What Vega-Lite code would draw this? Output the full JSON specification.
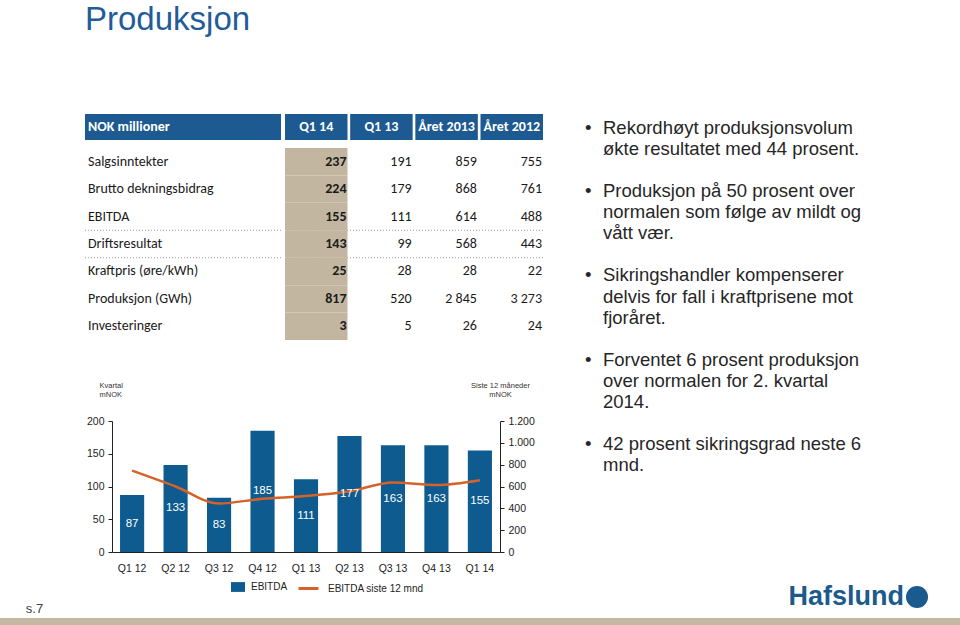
{
  "$schema": "https://vega.github.io/schema/vega-lite/v6.json",
  "padding": {"top": 4, "left": 0, "right": 0, "bottom": 0},
  "background": "white",
  "title": {"text": "Produksjon", "anchor": "start", "dx": 85, "fontSize": 33, "font": "Liberation Sans", "fontWeight": "normal", "color": "#1f5c99", "offset": 77},
  "datasets": {
    "foot": [{"t": "s.7"}],
    "hdr": [{"col": "NOK millioner"}],
    "cols": [{"col": "Q1 14"}, {"col": "Q1 13"}, {"col": "Året 2013"}, {"col": "Året 2012"}],
    "tbl": [
      {"label": "Salgsinntekter", "Q1 14": "237", "Q1 13": "191", "Året 2013": "859", "Året 2012": "755"},
      {"label": "Brutto dekningsbidrag", "Q1 14": "224", "Q1 13": "179", "Året 2013": "868", "Året 2012": "761"},
      {"label": "EBITDA", "Q1 14": "155", "Q1 13": "111", "Året 2013": "614", "Året 2012": "488"},
      {"label": "Driftsresultat", "Q1 14": "143", "Q1 13": "99", "Året 2013": "568", "Året 2012": "443"},
      {"label": "Kraftpris (øre/kWh)", "Q1 14": "25", "Q1 13": "28", "Året 2013": "28", "Året 2012": "22"},
      {"label": "Produksjon (GWh)", "Q1 14": "817", "Q1 13": "520", "Året 2013": "2 845", "Året 2012": "3 273"},
      {"label": "Investeringer", "Q1 14": "3", "Q1 13": "5", "Året 2013": "26", "Året 2012": "24"}
    ],
    "eb": [
      {"q": "Q1 12", "ebitda": 87, "ltm": 745},
      {"q": "Q2 12", "ebitda": 133, "ltm": 600},
      {"q": "Q3 12", "ebitda": 83, "ltm": 445},
      {"q": "Q4 12", "ebitda": 185, "ltm": 488},
      {"q": "Q1 13", "ebitda": 111, "ltm": 512},
      {"q": "Q2 13", "ebitda": 177, "ltm": 556},
      {"q": "Q3 13", "ebitda": 163, "ltm": 636},
      {"q": "Q4 13", "ebitda": 163, "ltm": 614},
      {"q": "Q1 14", "ebitda": 155, "ltm": 658}
    ],
    "bul": [
      {"line": "1a", "bullet": "•", "text": "Rekordhøyt produksjonsvolum"},
      {"line": "1b", "bullet": "", "text": "økte resultatet med 44 prosent."},
      {"line": "2a", "bullet": "•", "text": "Produksjon på 50 prosent over"},
      {"line": "2b", "bullet": "", "text": "normalen som følge av mildt og"},
      {"line": "2c", "bullet": "", "text": "vått vær."},
      {"line": "3a", "bullet": "•", "text": "Sikringshandler kompenserer"},
      {"line": "3b", "bullet": "", "text": "delvis for fall i kraftprisene mot"},
      {"line": "3c", "bullet": "", "text": "fjoråret."},
      {"line": "4a", "bullet": "•", "text": "Forventet 6 prosent produksjon"},
      {"line": "4b", "bullet": "", "text": "over normalen for 2. kvartal"},
      {"line": "4c", "bullet": "", "text": "2014."},
      {"line": "5a", "bullet": "•", "text": "42 prosent sikringsgrad neste 6"},
      {"line": "5b", "bullet": "", "text": "mnd."}
    ],
    "logo": [{"part": "word", "t": "Hafslund"}],
    "emblem": [{"part": "mark"}],
    "strip": [{"s": 1}]
  },
  "vconcat": [
    {
      "hconcat": [
        {
          "hconcat": [
            {
              "width": 69, "height": 495,
              "data": {"name": "foot"},
              "mark": {"type": "text", "fontSize": 13, "color": "#404040", "baseline": "middle", "font": "Liberation Sans"},
              "encoding": {
                "y": {"field": "t", "type": "nominal", "bandPosition": 1, "scale": {"type": "band", "paddingInner": 0, "paddingOuter": 0}, "axis": null},
                "text": {"field": "t"}
              }
            },
            {
              "vconcat": [
                {
                  "hconcat": [
                    {
                      "vconcat": [
                        {
                          "width": 196, "height": 26,
                          "data": {"name": "hdr"},
                          "layer": [
                            {"mark": {"type": "rect", "color": "#1c5a91"},
                             "encoding": {"x": {"field": "col", "type": "nominal", "scale": {"type": "band", "paddingInner": 0, "paddingOuter": 0}, "axis": null}}},
                            {"mark": {"type": "text", "align": "left", "dx": 3, "color": "white", "fontWeight": "bold", "fontSize": 14, "font": "Carlito, Lato"},
                             "encoding": {"x": {"field": "col", "type": "nominal", "bandPosition": 0, "axis": null}, "text": {"field": "col"}}}
                          ]
                        },
                        {
                          "width": 196, "height": 192,
                          "data": {"name": "tbl"},
                          "layer": [
                            {"transform": [{"filter": {"field": "label", "oneOf": ["Driftsresultat", "Kraftpris (øre/kWh)"]}}],
                             "mark": {"type": "rule", "color": "#9a9a9a", "strokeDash": [1, 2], "strokeWidth": 1},
                             "encoding": {"y": {"field": "label", "type": "nominal", "bandPosition": 0, "scale": {"type": "band", "domain": ["Salgsinntekter", "Brutto dekningsbidrag", "EBITDA", "Driftsresultat", "Kraftpris (øre/kWh)", "Produksjon (GWh)", "Investeringer"], "paddingInner": 0, "paddingOuter": 0}, "axis": null}}},
                            {"mark": {"type": "text", "align": "left", "baseline": "middle", "dx": 3, "fontSize": 14, "font": "Carlito, Lato", "color": "#1a1a1a"},
                             "encoding": {
                               "x": {"datum": "l", "type": "nominal", "bandPosition": 0, "scale": {"type": "band", "paddingInner": 0, "paddingOuter": 0}, "axis": null},
                               "y": {"field": "label", "type": "nominal", "bandPosition": 0.5, "axis": null},
                               "text": {"field": "label"}
                             }}
                          ]
                        }
                      ],
                      "spacing": 8
                    },
                    {
                      "vconcat": [
                        {
                          "width": 258, "height": 26,
                          "data": {"name": "cols"},
                          "encoding": {"x": {"field": "col", "type": "nominal", "scale": {"type": "band", "domain": ["Q1 14", "Q1 13", "Året 2013", "Året 2012"], "paddingInner": 0.041, "paddingOuter": 0}, "axis": null}},
                          "layer": [
                            {"mark": {"type": "rect", "color": "#1c5a91"}},
                            {"mark": {"type": "text", "color": "white", "fontWeight": "bold", "fontSize": 14, "font": "Carlito, Lato"}, "encoding": {"text": {"field": "col"}}}
                          ]
                        },
                        {
                          "width": 258, "height": 192,
                          "data": {"name": "tbl"},
                          "layer": [
                            {"transform": [{"filter": {"field": "label", "oneOf": ["Driftsresultat", "Kraftpris (øre/kWh)"]}}],
                             "mark": {"type": "rule", "color": "#9a9a9a", "strokeDash": [1, 2], "strokeWidth": 1},
                             "encoding": {"y": {"field": "label", "type": "nominal", "bandPosition": 0, "scale": {"type": "band", "domain": ["Salgsinntekter", "Brutto dekningsbidrag", "EBITDA", "Driftsresultat", "Kraftpris (øre/kWh)", "Produksjon (GWh)", "Investeringer"], "paddingInner": 0, "paddingOuter": 0}, "axis": null}}},
                            {"transform": [{"fold": ["Q1 14", "Q1 13", "Året 2013", "Året 2012"], "as": ["col", "val"]}, {"filter": {"field": "col", "equal": "Q1 14"}}],
                             "mark": {"type": "rect", "color": "#c2b6a0"},
                             "encoding": {
                               "x": {"field": "col", "type": "nominal", "scale": {"type": "band", "domain": ["Q1 14", "Q1 13", "Året 2013", "Året 2012"], "paddingInner": 0.041, "paddingOuter": 0}, "axis": null},
                               "y": {"field": "label", "type": "nominal", "axis": null}
                             }},
                            {"transform": [{"fold": ["Q1 14", "Q1 13", "Året 2013", "Året 2012"], "as": ["col", "val"]}, {"filter": {"not": {"field": "col", "equal": "Q1 14"}}}],
                             "mark": {"type": "text", "align": "right", "baseline": "middle", "dx": -1, "fontSize": 14, "font": "Carlito, Lato", "color": "#1a1a1a"},
                             "encoding": {
                               "x": {"field": "col", "type": "nominal", "bandPosition": 1, "axis": null},
                               "y": {"field": "label", "type": "nominal", "axis": null},
                               "text": {"field": "val"}
                             }},
                            {"transform": [{"fold": ["Q1 14", "Q1 13", "Året 2013", "Året 2012"], "as": ["col", "val"]}, {"filter": {"field": "col", "equal": "Q1 14"}}],
                             "mark": {"type": "text", "align": "right", "baseline": "middle", "dx": -1, "fontSize": 14, "fontWeight": "bold", "font": "Carlito, Lato", "color": "#1a1a1a"},
                             "encoding": {
                               "x": {"field": "col", "type": "nominal", "bandPosition": 1, "axis": null},
                               "y": {"field": "label", "type": "nominal", "axis": null},
                               "text": {"field": "val"}
                             }}
                          ]
                        }
                      ],
                      "spacing": 8
                    }
                  ],
                  "spacing": 2
                },
                {
                  "hconcat": [
                    {
                      "width": 1, "height": 1,
                      "data": {"name": "strip"},
                      "mark": {"type": "text"},
                      "encoding": {"text": {"value": ""}}
                    },
                    {
                      "width": 388, "height": 131,
                      "data": {"name": "eb"},
                      "encoding": {
                        "x": {"field": "q", "type": "nominal", "sort": null, "scale": {"paddingInner": 0.445, "paddingOuter": 0.185},
                              "axis": {"title": null, "labelAngle": 0, "ticks": false, "labelPadding": 11, "domainColor": "#222"}}
                      },
                      "layer": [
                        {"mark": {"type": "bar"},
                         "encoding": {
                           "y": {"field": "ebitda", "type": "quantitative", "scale": {"domain": [0, 200]},
                                 "axis": {"orient": "left", "values": [0, 50, 100, 150, 200], "grid": false, "tickSize": 4, "labelPadding": 4,
                                          "title": ["Kvartal", "mNOK"], "titleAngle": 0, "titleAlign": "left", "titleBaseline": "top", "titleX": -13, "titleY": -40,
                                          "titleFontSize": 7.5, "titleFontWeight": "normal", "titleColor": "#333", "titleLineHeight": 9.5}},
                           "fill": {"datum": "EBITDA", "type": "nominal", "scale": {"range": ["#0d5b8f"]},
                                    "legend": {"orient": "none", "legendX": 119, "legendY": 159, "title": null, "symbolType": "M-1,-0.7L1,-0.7L1,0.7L-1,0.7Z", "symbolSize": 196, "symbolStrokeWidth": 0, "labelOffset": 6, "padding": 0}}
                         }},
                        {"mark": {"type": "line", "interpolate": "monotone", "strokeWidth": 2.5},
                         "encoding": {
                           "y": {"field": "ltm", "type": "quantitative", "scale": {"domain": [0, 1200]},
                                 "axis": {"orient": "right", "values": [0, 200, 400, 600, 800, 1000, 1200], "grid": false, "tickSize": 4, "labelPadding": 4,
                                          "labelExpr": "replace(format(datum.value, ','), ',', '.')",
                                          "title": ["Siste 12 måneder", "mNOK"], "titleAngle": 0, "titleAlign": "center", "titleBaseline": "top", "titleX": 0, "titleY": -40,
                                          "titleFontSize": 7.5, "titleFontWeight": "normal", "titleColor": "#333", "titleLineHeight": 9.5}},
                           "stroke": {"datum": "EBITDA siste 12 mnd", "type": "nominal", "scale": {"range": ["#d4622a"]},
                                      "legend": {"orient": "none", "legendX": 185, "legendY": 156, "title": null, "symbolType": "stroke", "symbolSize": 400, "symbolStrokeWidth": 3, "labelOffset": 8, "padding": 0}}
                         }},
                        {"mark": {"type": "text", "color": "white", "fontSize": 11.5, "baseline": "middle", "font": "Liberation Sans"},
                         "encoding": {
                           "y": {"field": "ebitda", "type": "quantitative", "stack": "zero", "bandPosition": 0.5, "scale": {"domain": [0, 200]}, "axis": null},
                           "text": {"field": "ebitda"}
                         }}
                      ],
                      "resolve": {"scale": {"y": "independent"}}
                    }
                  ],
                  "spacing": 0,
                  "resolve": {"scale": {"fill": "independent", "stroke": "independent"}}
                }
              ],
              "spacing": 41,
              "resolve": {"scale": {"fill": "independent", "stroke": "independent"}}
            }
          ],
          "spacing": 15,
          "resolve": {"scale": {"fill": "independent", "stroke": "independent"}}
        },
        {
          "vconcat": [
            {
              "width": 18, "height": 365,
              "data": {"name": "bul"},
              "transform": [{"fold": ["bullet", "text"], "as": ["part", "t"]}],
              "mark": {"type": "text", "align": "left", "baseline": "middle", "fontSize": 18.5, "font": "Liberation Sans", "color": "#262626"},
              "encoding": {
                "x": {"field": "part", "type": "nominal", "scale": {"type": "point", "domain": ["bullet", "text"], "padding": 0}, "axis": null},
                "y": {"field": "line", "type": "nominal", "scale": {"type": "band", "domain": ["1a", "1b", "g1", "2a", "2b", "2c", "g2", "3a", "3b", "3c", "g3", "4a", "4b", "4c", "g4", "5a", "5b"], "paddingInner": 0, "paddingOuter": 0.17}, "axis": null},
                "text": {"field": "t"}
              }
            },
            {
              "hconcat": [
                {
                  "width": 319, "height": 24,
                  "data": {"name": "logo"},
                  "mark": {"type": "text", "align": "right", "baseline": "middle", "fontSize": 27, "fontWeight": "bold", "font": "Liberation Sans", "color": "#1a5a8c"},
                  "encoding": {
                    "x": {"field": "part", "type": "nominal", "bandPosition": 1, "scale": {"type": "band", "paddingInner": 0, "paddingOuter": 0}, "axis": null},
                    "text": {"field": "t"}
                  }
                },
                {
                  "width": 22, "height": 24,
                  "data": {"name": "emblem"},
                  "mark": {"type": "point", "shape": "circle", "filled": true, "size": 484, "color": "#1a5a8c", "opacity": 1},
                  "encoding": {}
                }
              ],
              "spacing": 2
            }
          ],
          "spacing": 104
        }
      ],
      "spacing": 41,
      "resolve": {"scale": {"fill": "independent", "stroke": "independent"}}
    },
    {
      "width": 960, "height": 8,
      "data": {"name": "strip"},
      "mark": {"type": "rect", "color": "#c4b8a3"},
      "encoding": {}
    }
  ],
  "spacing": 2,
  "resolve": {"scale": {"fill": "independent", "stroke": "independent"}},
  "config": {
    "view": {"stroke": null},
    "font": "Liberation Sans",
    "axis": {"labelFont": "Liberation Sans", "labelFontSize": 10.5, "labelColor": "#222", "domainColor": "#222", "tickColor": "#222", "titleFont": "Liberation Sans"},
    "legend": {"labelFont": "Liberation Sans", "labelFontSize": 10, "labelColor": "#222"}
  }
}
